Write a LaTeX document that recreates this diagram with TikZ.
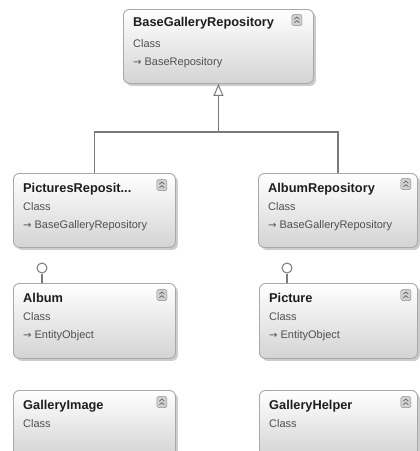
\documentclass[tikz,border=0pt]{standalone}
\usepackage{fontspec}
\setmainfont{Liberation Sans}
\newfontfamily\symfont{DejaVu Sans}
\usetikzlibrary{shadows,arrows.meta,shapes.geometric}
\definecolor{boxline}{HTML}{A8A8A8}
\definecolor{conn}{HTML}{7A7A7A}
\definecolor{titlec}{HTML}{1E1E1E}
\definecolor{subc}{HTML}{505050}
\tikzset{
  clsbox/.style={draw=boxline, line width=0.9pt, rounded corners=6pt,
    top color=white, bottom color=black!17, anchor=north west, inner sep=0pt,
    drop shadow={shadow xshift=2.5pt, shadow yshift=-2.5pt, fill=black!40, opacity=0.5}},
  ttl/.style={anchor=base west, inner sep=0pt, text=titlec, font=\fontsize{12.8}{14}\selectfont\bfseries},
  sub/.style={anchor=base west, inner sep=0pt, text=subc, font=\fontsize{11}{13}\selectfont},
  arr/.style={},
  conline/.style={draw=conn, line width=1.1pt},
  lolly/.style={circle, draw=conn, line width=1pt, fill=white, minimum size=10pt, inner sep=0pt},
  collapse/.pic={
    \draw[draw=black!45, fill=black!18, rounded corners=1.5pt, line width=0.5pt] (-5,-5.5) rectangle (5,5.5);
    \draw[black!65, line width=0.6pt] (-2.5,-0.8) -- (0,-3) -- (2.5,-0.8) (-2.5,2.8) -- (0,0.6) -- (2.5,2.8);
  }
}
\newcommand{\inhsym}{{\symfont\fontsize{10}{11}\selectfont →}}
\begin{document}
\begin{tikzpicture}[x=1pt,y=-1pt]
\useasboundingbox (0,0) rectangle (420,451);
% boxes
\node[clsbox, minimum width=190pt, minimum height=74pt] (base) at (123,9) {};
\node[clsbox, minimum width=162pt, minimum height=74pt] (pict) at (13,173) {};
\node[clsbox, minimum width=159pt, minimum height=74pt] (arepo) at (258,173) {};
\node[clsbox, minimum width=162pt, minimum height=75pt] (album) at (13,283) {};
\node[clsbox, minimum width=158pt, minimum height=75pt] (picture) at (259,283) {};
\node[clsbox, minimum width=162pt, minimum height=66pt] (gimage) at (13,390) {};
\node[clsbox, minimum width=158pt, minimum height=66pt] (ghelper) at (259,390) {};
% collapse icons
\pic at ([shift={(-17,11)}]base.north east) {collapse};
\pic at ([shift={(-14,12)}]pict.north east) {collapse};
\pic at ([shift={(-12,11)}]arepo.north east) {collapse};
\pic at ([shift={(-14,12)}]album.north east) {collapse};
\pic at ([shift={(-12,12)}]picture.north east) {collapse};
\pic at ([shift={(-14,12)}]gimage.north east) {collapse};
\pic at ([shift={(-12,12)}]ghelper.north east) {collapse};
% texts
\node[ttl] (baset) at ([shift={(10,17)}]base.north west) {BaseGalleryRepository};
\node[sub] (basec) at ([shift={(10,38)}]base.north west) {Class};
\node[sub] (basep) at ([shift={(10,56)}]base.north west) {\inhsym\ BaseRepository};

\node[ttl] (pictt) at ([shift={(10,19)}]pict.north west) {PicturesReposit...};
\node[sub] (pictc) at ([shift={(10,37)}]pict.north west) {Class};
\node[sub] (pictp) at ([shift={(10,55)}]pict.north west) {\inhsym\ BaseGalleryRepository};

\node[ttl] (arepot) at ([shift={(10,19)}]arepo.north west) {AlbumRepository};
\node[sub] (arepoc) at ([shift={(10,37)}]arepo.north west) {Class};
\node[sub] (arepop) at ([shift={(10,55)}]arepo.north west) {\inhsym\ BaseGalleryRepository};

\node[ttl] (albumt) at ([shift={(10,19)}]album.north west) {Album};
\node[sub] (albumc) at ([shift={(10,37)}]album.north west) {Class};
\node[sub] (albump) at ([shift={(10,55)}]album.north west) {\inhsym\ EntityObject};

\node[ttl] (picturet) at ([shift={(10,19)}]picture.north west) {Picture};
\node[sub] (picturec) at ([shift={(10,37)}]picture.north west) {Class};
\node[sub] (picturep) at ([shift={(10,55)}]picture.north west) {\inhsym\ EntityObject};

\node[ttl] (gimaget) at ([shift={(10,19)}]gimage.north west) {GalleryImage};
\node[sub] (gimagec) at ([shift={(10,37)}]gimage.north west) {Class};

\node[ttl] (ghelpert) at ([shift={(10,19)}]ghelper.north west) {GalleryHelper};
\node[sub] (ghelperc) at ([shift={(10,37)}]ghelper.north west) {Class};
% inheritance
\coordinate (j) at (base.south |- 0,132);
\draw[conline] (pict.north) |- (j);
\draw[conline] (arepo.north) |- (j);
\draw[conline, -{Triangle[open, width=10pt, length=12pt, line width=1pt]}] (j) -- (base.south);
% lollipops
\node[lolly] (lolA) at (42,268) {};
\node[lolly] (lolP) at (287,268) {};
\draw[conline] (lolA.south) -- (lolA.south |- album.north);
\draw[conline] (lolP.south) -- (lolP.south |- picture.north);
\end{tikzpicture}
\end{document}
